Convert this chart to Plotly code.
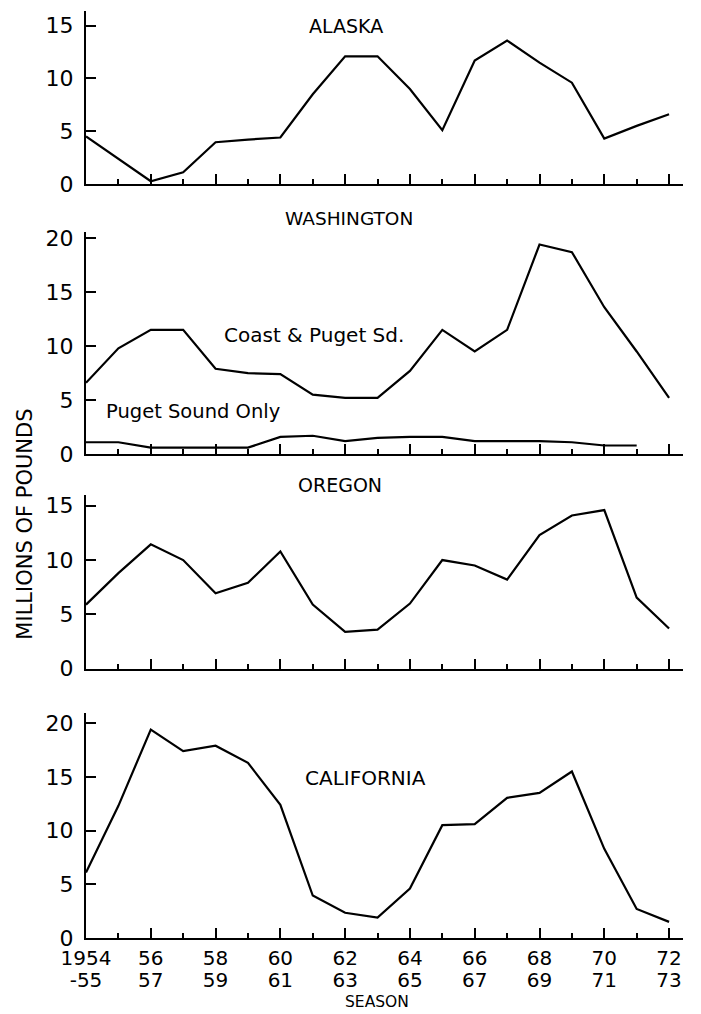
import plotly.graph_objects as go

seasons = list(range(1954, 1973))
tick_years = list(range(1954, 1973, 2))
tick_labels_top = ["1954", "56", "58", "60", "62", "64", "66", "68", "70", "72"]
tick_labels_bottom = ["-55", "57", "59", "61", "63", "65", "67", "69", "71", "73"]

alaska = [4.5, 2.4, 0.25, 1.1, 3.95, 4.2, 4.4, 8.5, 12.1, 12.1, 9.0, 5.1, 11.7,
          13.6, 11.5, 9.6, 4.3, 5.5, 6.6]
wash_coast = [6.6, 9.8, 11.5, 11.5, 7.9, 7.5, 7.4, 5.5, 5.2, 5.2, 7.7, 11.5, 9.5,
              11.5, 19.4, 18.7, 13.6, 9.5, 5.2]
puget_years = list(range(1954, 1972))
puget_only = [1.1, 1.1, 0.6, 0.6, 0.6, 0.6, 1.6, 1.7, 1.2, 1.5, 1.6, 1.6, 1.2,
              1.2, 1.2, 1.1, 0.8, 0.8]
oregon = [5.9, 8.8, 11.45, 10.0, 6.95, 7.9, 10.8, 5.9, 3.4, 3.6, 6.0, 10.0, 9.5,
          8.2, 12.3, 14.1, 14.6, 6.55, 3.7]
california = [6.1, 12.3, 19.4, 17.4, 17.9, 16.3, 12.4, 3.95, 2.35, 1.9, 4.6, 10.5,
              10.6, 13.05, 13.5, 15.5, 8.3, 2.7, 1.5]

W, H = 701, 1014
L, R, T, B = 86, 18, 5, 76
PW, PH = W - L - R, H - T - B
FONT = "DejaVu Sans"
XRANGE = [1954, 1972.43]


def px(x):
    return (x - L) / PW


def py(y):
    return (H - B - y) / PH


fig = go.Figure()
line = dict(color="black", width=2.2)
fig.add_trace(go.Scatter(x=seasons, y=alaska, mode="lines", line=line, xaxis="x", yaxis="y"))
fig.add_trace(go.Scatter(x=seasons, y=wash_coast, mode="lines", line=line, xaxis="x2", yaxis="y2"))
fig.add_trace(go.Scatter(x=puget_years, y=puget_only, mode="lines", line=line, xaxis="x2", yaxis="y2"))
fig.add_trace(go.Scatter(x=seasons, y=oregon, mode="lines", line=line, xaxis="x3", yaxis="y3"))
fig.add_trace(go.Scatter(x=seasons, y=california, mode="lines", line=line, xaxis="x4", yaxis="y4"))
fig.add_trace(go.Scatter(x=[], y=[], mode="lines", xaxis="x5", yaxis="y4", hoverinfo="skip"))

# panel geometry in pixels: (zero line y, top of axis y, y max value)
panels = [(179, 5, 16.4, [0, 5, 10, 15]),
          (451, 227, 20.6, [0, 5, 10, 15, 20]),
          (667, 492, 16.0, [0, 5, 10, 15]),
          (938, 712, 20.9, [0, 5, 10, 15, 20])]

layout = dict(
    width=W, height=H, margin=dict(l=L, r=R, t=T, b=B),
    paper_bgcolor="white", plot_bgcolor="white", showlegend=False,
    font=dict(family=FONT, color="black"),
)
ytickfont = dict(size=22, family=FONT, color="black")
xtickfont = dict(size=20, family=FONT, color="black")
for i, (y0, ytop, ymax, yticks) in enumerate(panels):
    sfx = "" if i == 0 else str(i + 1)
    dom = [py(y0), min(1.0, py(ytop))]
    layout["yaxis" + sfx] = dict(
        domain=dom, range=[0, ymax], anchor="x" + sfx,
        showline=True, linecolor="black", linewidth=2,
        showgrid=False, zeroline=False,
        ticks="inside", ticklen=10, tickwidth=2, tickcolor="black",
        tickvals=yticks, ticklabelstandoff=6,
        tickfont=ytickfont,
    )
    layout["xaxis" + sfx] = dict(
        domain=[0, 1], range=XRANGE, anchor="y" + sfx,
        showline=True, linecolor="black", linewidth=2,
        showgrid=False, zeroline=False,
        ticks="inside", ticklen=10, tickwidth=1.5, tickcolor="black",
        tickvals=tick_years, ticktext=tick_labels_top,
        minor=dict(ticks="inside", ticklen=5, tickwidth=1.5, dtick=1, tick0=1954,
                   tickcolor="black", showgrid=False),
        showticklabels=(i == 3), ticklabelstandoff=1,
        tickfont=xtickfont,
    )
layout["xaxis5"] = dict(
    domain=[0, 1], range=XRANGE, anchor="y4", overlaying="x4", side="bottom",
    showline=False, showgrid=False, zeroline=False, ticks="",
    tickvals=tick_years, ticktext=tick_labels_bottom,
    ticklabelstandoff=28, tickfont=xtickfont,
)
fig.update_layout(**layout)

texts = [("ALASKA", 346, 20, 19), ("WASHINGTON", 349, 214, 18.5), ("OREGON", 340, 482, 19),
         ("CALIFORNIA", 365, 777, 20), ("Coast & Puget Sd.", 314, 331, 20),
         ("Puget Sound Only", 193, 408, 19.5), ("SEASON", 377, 1002, 15.5)]
for t, x, y, s in texts:
    fig.add_annotation(text=t, x=px(x), y=py(y), xref="paper", yref="paper",
                       showarrow=False, xanchor="center", yanchor="middle",
                       font=dict(size=s, family=FONT, color="black"))
fig.add_annotation(text="MILLIONS OF POUNDS", x=px(25), y=py(522), xref="paper", yref="paper",
                   showarrow=False, textangle=-90, xanchor="center", yanchor="middle",
                   font=dict(size=21, family=FONT, color="black"))

fig.write_html("out.html")
